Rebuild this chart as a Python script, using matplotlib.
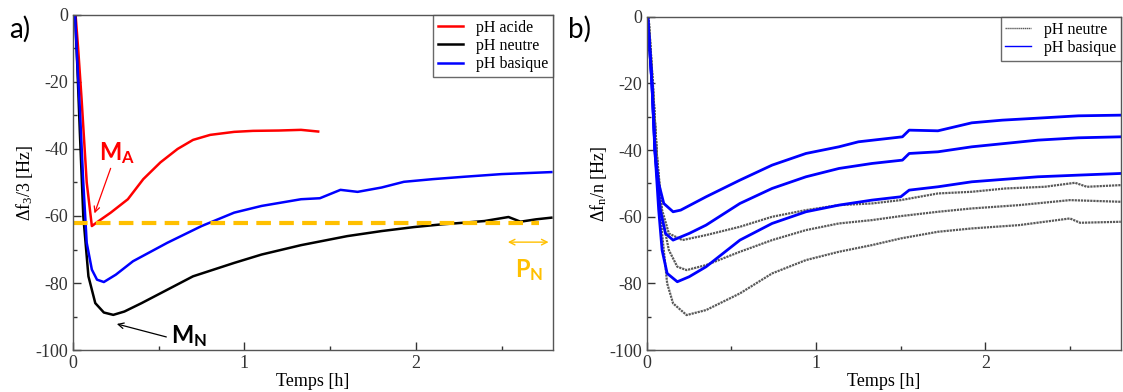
import numpy as np
import matplotlib
matplotlib.use("Agg")
import matplotlib.pyplot as plt
from matplotlib.ticker import MultipleLocator

plt.rcParams['font.family'] = ['Liberation Serif', 'DejaVu Serif']
plt.rcParams['axes.unicode_minus'] = False
plt.rcParams['mathtext.fontset'] = 'custom'
plt.rcParams['mathtext.rm'] = 'Liberation Serif'
plt.rcParams['mathtext.it'] = 'Liberation Serif:italic'
plt.rcParams['mathtext.bf'] = 'Lato:bold'

# ---- panel a : f3/3 pour les trois pH ----
t_acide = [0.015, 0.03, 0.05, 0.08, 0.11, 0.15, 0.22, 0.32, 0.41, 0.51, 0.61, 0.70,
           0.80, 0.94, 1.05, 1.2, 1.33, 1.43]
v_acide = [0, -10, -25, -50, -63, -61.5, -59, -55, -49, -44, -40, -37.3,
           -35.8, -34.9, -34.6, -34.5, -34.3, -34.8]

t_neutre = [0.012, 0.025, 0.04, 0.06, 0.09, 0.13, 0.18, 0.235, 0.3, 0.4, 0.55, 0.7,
            0.94, 1.1, 1.33, 1.6, 1.8, 1.99, 2.15, 2.28, 2.4, 2.54, 2.61, 2.7, 2.79]
v_neutre = [0, -15, -35, -60, -78, -86, -88.8, -89.5, -88.5, -86, -82, -78,
            -74, -71.5, -68.7, -66, -64.5, -63.3, -62.5, -62, -61.5, -60.3, -61.7, -61, -60.5]

t_basique = [0.012, 0.025, 0.04, 0.06, 0.08, 0.11, 0.14, 0.18, 0.25, 0.35, 0.55, 0.75,
             0.94, 1.1, 1.33, 1.44, 1.56, 1.66, 1.8, 1.93, 2.1, 2.28, 2.5, 2.79]
v_basique = [0, -14, -28, -50, -68, -76, -79, -79.7, -77.5, -73.5, -68, -63,
             -59, -57, -55, -54.7, -52.2, -52.8, -51.5, -49.8, -49, -48.3, -47.5, -46.9]

niveau_PN = -62

# ---- panel b : harmoniques, pH basique (bleu) et neutre (gris) ----
tb1 = [0.005, 0.03, 0.047, 0.07, 0.1, 0.155, 0.2, 0.35, 0.55, 0.74, 0.94, 1.135, 1.25,
       1.51, 1.55, 1.72, 1.92, 2.1, 2.31, 2.55, 2.8]
vb1 = [0, -20, -40, -50, -56, -58.5, -58, -54, -49, -44.5, -41, -39, -37.5,
       -36, -34, -34.2, -31.8, -31, -30.4, -29.7, -29.5]
tb2 = [0.005, 0.03, 0.05, 0.08, 0.11, 0.155, 0.25, 0.35, 0.55, 0.74, 0.94, 1.135, 1.33,
       1.51, 1.55, 1.72, 1.92, 2.31, 2.55, 2.8]
vb2 = [0, -20, -42, -58, -65, -67, -65, -62.5, -56, -51.5, -48, -45.5, -44,
       -43, -41, -40.5, -39, -37, -36.3, -36]
tb3 = [0.005, 0.03, 0.05, 0.07, 0.09, 0.12, 0.18, 0.25, 0.35, 0.55, 0.74, 0.94, 1.135,
       1.33, 1.5, 1.55, 1.72, 1.92, 2.1, 2.31, 2.55, 2.8]
vb3 = [0, -20, -42, -58, -70, -77, -79.5, -78, -75, -67, -62, -58.5, -56.5,
       -55, -54, -52, -51, -49.5, -48.8, -48, -47.5, -47]

tg1 = [0.01, 0.035, 0.06, 0.09, 0.13, 0.21, 0.35, 0.55, 0.74, 0.94, 1.135, 1.33, 1.5,
       1.72, 1.92, 2.12, 2.35, 2.53, 2.6, 2.8]
vg1 = [0, -20, -42, -58, -65, -67, -65.5, -63, -60, -58, -56.5, -56, -55,
       -53, -52.5, -51.5, -51, -49.8, -51, -50.5]
tg2 = [0.01, 0.035, 0.06, 0.09, 0.13, 0.18, 0.235, 0.35, 0.55, 0.74, 0.94, 1.135, 1.33,
       1.5, 1.72, 1.92, 2.2, 2.5, 2.8]
vg2 = [0, -20, -42, -60, -70, -75, -76, -74.5, -70.5, -67, -64, -62, -61,
       -59.8, -58.5, -57.5, -56.5, -55, -55.5]
tg3 = [0.01, 0.035, 0.06, 0.09, 0.12, 0.155, 0.235, 0.35, 0.55, 0.74, 0.94, 1.135, 1.33,
       1.5, 1.72, 1.92, 2.2, 2.5, 2.56, 2.8]
vg3 = [0, -20, -42, -65, -80, -86, -89.5, -88, -83, -77, -73, -70.5, -68.5,
       -66.5, -64.5, -63.5, -62.5, -60.5, -61.8, -61.5]

orange = '#FFC000'
gris = '#5a5a5a'


def style_axes(ax):
    ax.set_xlim(0, 2.8)
    ax.set_ylim(-100, 0)
    ax.xaxis.set_major_locator(MultipleLocator(1))
    ax.xaxis.set_minor_locator(MultipleLocator(0.5))
    ax.yaxis.set_major_locator(MultipleLocator(20))
    ax.yaxis.set_minor_locator(MultipleLocator(10))
    ax.tick_params(which='both', direction='in', top=False, right=False,
                   labelsize=13, colors='#333333', width=1.0)
    ax.tick_params(which='major', length=6)
    ax.tick_params(which='minor', length=3)
    for s in ax.spines.values():
        s.set_color('#555555')
        s.set_linewidth(1.0)
    ax.set_xlabel('Temps [h]', fontsize=13, labelpad=1)


fig = plt.figure(figsize=(11.23, 3.92), dpi=100)
ax1 = fig.add_axes([0.065, 0.107, 0.4275, 0.855])
ax2 = fig.add_axes([0.576, 0.107, 0.422, 0.850])

# panel a
ax1.plot(t_acide, v_acide, color='#ff0000', lw=1.8, label='pH acide')
ax1.plot(t_neutre, v_neutre, color='black', lw=1.8, label='pH neutre')
ax1.plot(t_basique, v_basique, color='#0000ff', lw=1.8, label='pH basique')
ax1.plot([0, 2.72], [niveau_PN, niveau_PN], color=orange, lw=3, dashes=(3.5, 2))
style_axes(ax1)
ax1.set_ylabel(r'$\Delta$f$_3$/3 [Hz]', fontsize=13, labelpad=0)
leg = ax1.legend(loc='upper right', borderaxespad=0, fontsize=11.5, fancybox=False,
                 handlelength=1.6, labelspacing=0.15, borderpad=0.3, handletextpad=0.8)
leg.get_frame().set_edgecolor('#444444')
leg.get_frame().set_linewidth(1.0)

ax1.annotate('', xy=(0.12, -60), xytext=(0.225, -45),
             arrowprops=dict(arrowstyle='->', color='#ff0000', lw=0.9))
ax1.text(0.15, -43.5, r'$\mathbf{M}_{\mathbf{A}}$', color='#ff0000', fontsize=17)
ax1.annotate('', xy=(0.24, -92), xytext=(0.56, -96.3),
             arrowprops=dict(arrowstyle='->', color='black', lw=0.9))
ax1.text(0.57, -98, r'$\mathbf{M}_{\mathbf{N}}$', color='black', fontsize=17)
ax1.annotate('', xy=(2.52, -67.8), xytext=(2.79, -67.8),
             arrowprops=dict(arrowstyle='<->', color=orange, lw=1.0))
ax1.text(2.58, -78.5, r'$\mathbf{P}_{\mathbf{N}}$', color=orange, fontsize=17)

# panel b
ax2.plot(tg1, vg1, color=gris, lw=1.6, linestyle=(0, (1, 0.4)), label='pH neutre')
ax2.plot(tg2, vg2, color=gris, lw=1.6, linestyle=(0, (1, 0.4)))
ax2.plot(tg3, vg3, color=gris, lw=1.6, linestyle=(0, (1, 0.4)))
ax2.plot(tb1, vb1, color='#0000ff', lw=2.0, label='pH basique')
ax2.plot(tb2, vb2, color='#0000ff', lw=2.0)
ax2.plot(tb3, vb3, color='#0000ff', lw=2.0)
style_axes(ax2)
ax2.set_ylabel(r'$\Delta$f$_\mathrm{n}$/n [Hz]', fontsize=13, labelpad=0)
leg2 = ax2.legend(loc='upper right', borderaxespad=0, fontsize=11.5, fancybox=False,
                  handlelength=1.6, labelspacing=0.15, borderpad=0.3, handletextpad=0.8)
leg2.get_frame().set_edgecolor('#444444')
leg2.get_frame().set_linewidth(1.0)
for h in leg2.get_lines():
    h.set_linewidth(1.0)

fig.text(0.008, 0.925, 'a)', fontsize=20, family='Lato', va='center')
fig.text(0.506, 0.925, 'b)', fontsize=20, family='Lato', va='center')

fig.savefig('out.png', dpi=100)
